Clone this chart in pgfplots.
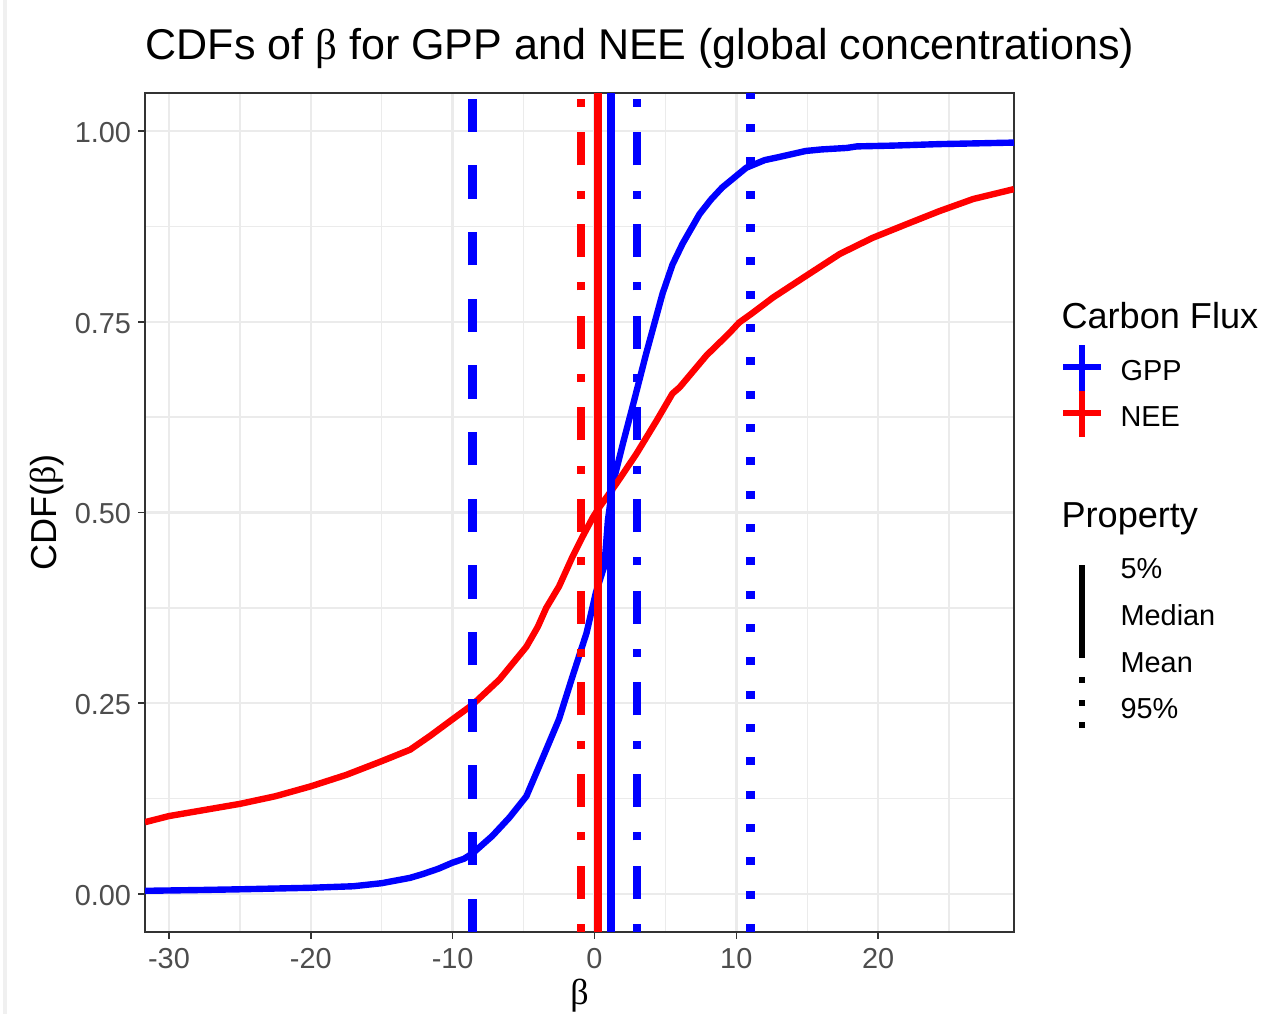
\documentclass[border=0pt]{standalone}
\usepackage{fontspec}
\setmainfont{Liberation Sans}
\newfontfamily\grk{Liberation Serif}
\usepackage{pgfplots}
\usepackage{pgfplotstable}
\pgfplotsset{compat=1.18}

\definecolor{gpp}{HTML}{0000FF}
\definecolor{nee}{HTML}{FF0000}
\definecolor{grid92}{HTML}{EBEBEB}
\definecolor{gray20}{HTML}{333333}
\definecolor{gray30}{HTML}{4D4D4D}

% empirical CDF of beta, GPP
\pgfplotstableread{
x y
-31.69 0.004
-28.0 0.005
-25.0 0.006
-20.0 0.008
-17.0 0.010
-15.0 0.014
-13.0 0.021
-12.1 0.026
-11.0 0.033
-10.0 0.041
-9.2 0.046
-8.6 0.053
-7.2 0.076
-6.0 0.100
-4.8 0.128
-3.7 0.176
-2.5 0.229
-1.55 0.285
-0.56 0.342
0.1 0.395
0.7 0.430
0.95 0.490
1.3 0.538
2.0 0.590
2.8 0.647
3.64 0.708
4.8 0.787
5.5 0.825
6.2 0.852
7.4 0.891
8.2 0.910
9.0 0.926
10.7 0.952
12.0 0.962
13.0 0.966
14.9 0.974
16.0 0.976
17.8 0.978
18.5 0.980
21.0 0.981
24.3 0.983
27.0 0.984
29.58 0.985
}\gpptable

% empirical CDF of beta, NEE
\pgfplotstableread{
x y
-31.69 0.094
-30.0 0.102
-27.5 0.110
-25.0 0.118
-22.5 0.128
-20.0 0.141
-17.5 0.156
-15.0 0.174
-13.0 0.189
-11.6 0.207
-10.0 0.229
-8.6 0.248
-6.7 0.281
-4.8 0.324
-4.0 0.350
-3.4 0.375
-2.5 0.403
-1.55 0.442
-0.85 0.468
-0.1 0.494
0.35 0.507
1.55 0.538
2.96 0.577
4.4 0.621
5.5 0.656
6.0 0.664
7.9 0.706
9.5 0.735
10.2 0.749
11.1 0.761
12.6 0.782
14.9 0.810
17.3 0.839
19.6 0.860
22.0 0.878
24.3 0.895
26.7 0.911
29.58 0.924
}\neetable

\tikzset{
  vdashed/.style={dash pattern=on 12pt off 12pt},
  vdotdash/.style={dash pattern=on 2.9pt off 9.1pt on 11.9pt off 9.1pt},
  vdotted/.style={dash pattern=on 2.9pt off 9.1pt},
}

\begin{document}
\begin{tikzpicture}
\begin{scope}[shift={(-52.2pt,335.52pt)}, x=0.36pt, y=-0.36pt]
  \useasboundingbox (0,0) rectangle (1271,1014);
  \fill[black!6] (3.5,0) rectangle (7.5,1014);
\end{scope}

\begin{axis}[
  scale only axis,
  width=312.84pt, height=302.04pt,
  xmin=-31.69, xmax=29.58, ymin=-0.05, ymax=1.05,
  xtick={-30,-20,-10,0,10,20},
  xticklabels={-30,-20,-10,0,10,20},
  ytick={0,0.25,0.5,0.75,1},
  yticklabels={0.00,0.25,0.50,0.75,1.00},
  minor xtick={-25,-15,-5,5,15,25},
  minor ytick={0.125,0.375,0.625,0.875},
  grid=both,
  major grid style={color=grid92, line width=0.9pt},
  minor grid style={color=grid92, line width=0.5pt},
  axis line style={color=gray20, line width=0.55pt},
  tick style={color=gray20, line width=0.55pt},
  major tick length=2.5pt, minor tick length=0pt,
  tick align=outside,
  xtick pos=bottom, ytick pos=left,
  ticklabel style={font=\fontsize{10.4}{12}\selectfont, text=gray30},
  yticklabel style={xshift=1pt, yshift=-0.5pt},
  clip mode=individual,
]
\addplot[gpp, line width=2.3pt, line join=round] table {\gpptable};
\addplot[nee, line width=2.3pt, line join=round] table {\neetable};

% GPP: 5%, median, mean, 95%
\addplot[gpp, line width=2.9pt, vdashed] coordinates {(-8.6,-0.05) (-8.6,1.05)};
\addplot[gpp, line width=2.9pt] coordinates {(1.18,-0.05) (1.18,1.05)};
\addplot[gpp, line width=2.9pt, vdotdash] coordinates {(3.0,-0.05) (3.0,1.05)};
\addplot[gpp, line width=2.9pt, vdotted] coordinates {(11.0,-0.05) (11.0,1.05)};
% NEE: median, mean
\addplot[nee, line width=2.9pt] coordinates {(0.28,-0.05) (0.28,1.05)};
\addplot[nee, line width=2.9pt, vdotdash] coordinates {(-0.95,-0.05) (-0.95,1.05)};
\end{axis}

\begin{scope}[shift={(-52.2pt,335.52pt)}, x=0.36pt, y=-0.36pt]
  % titles
  \node[anchor=base west, inner sep=0pt, font=\fontsize{15.5}{18}\selectfont]
    at (145,60) {CDFs of {\grk β} for GPP and NEE (global concentrations)};
  \node[anchor=base, inner sep=0pt, font=\fontsize{13}{15}\selectfont]
    at (579.5,1004) {\grk β};
  \node[anchor=base, inner sep=0pt, rotate=90, font=\fontsize{13}{15}\selectfont]
    at (56,512.5) {CDF({\grk β})};

  % legend: Carbon Flux
  \node[anchor=base west, inner sep=0pt, font=\fontsize{13}{15}\selectfont]
    at (1061,328) {Carbon Flux};
  \draw[gpp, line width=2.5pt] (1063,367) -- (1101,367);
  \draw[gpp, line width=2.4pt] (1082,345) -- (1082,391);
  \draw[nee, line width=2.5pt] (1063,413) -- (1101,413);
  \draw[nee, line width=2.4pt] (1082,391) -- (1082,437);
  \node[anchor=base west, inner sep=0pt, font=\fontsize{10.4}{12}\selectfont]
    at (1120,380) {GPP};
  \node[anchor=base west, inner sep=0pt, font=\fontsize{10.4}{12}\selectfont]
    at (1120,426) {NEE};

  % legend: Property
  \node[anchor=base west, inner sep=0pt, font=\fontsize{13}{15}\selectfont]
    at (1061,527) {Property};
  \draw[black, line width=2.2pt] (1082,565) -- (1082,658);
  \draw[black, line width=2.2pt] (1082,677) -- (1082,683);
  \draw[black, line width=2.2pt] (1082,700) -- (1082,706);
  \draw[black, line width=2.2pt] (1082,722) -- (1082,728);
  \node[anchor=base west, inner sep=0pt, font=\fontsize{10.4}{12}\selectfont]
    at (1120,578) {5\%};
  \node[anchor=base west, inner sep=0pt, font=\fontsize{10.4}{12}\selectfont]
    at (1120,625) {Median};
  \node[anchor=base west, inner sep=0pt, font=\fontsize{10.4}{12}\selectfont]
    at (1120,672) {Mean};
  \node[anchor=base west, inner sep=0pt, font=\fontsize{10.4}{12}\selectfont]
    at (1120,718) {95\%};
\end{scope}
\end{tikzpicture}
\end{document}
